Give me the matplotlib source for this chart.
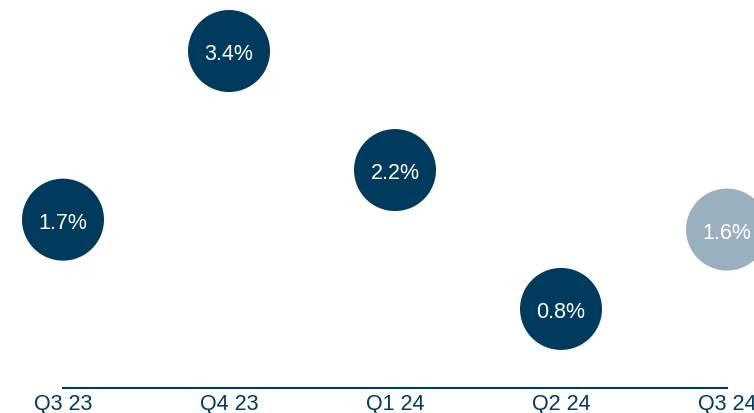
import matplotlib.pyplot as plt

# data
quarters = ["Q3 23", "Q4 23", "Q1 24", "Q2 24", "Q3 24"]
growth = [1.7, 3.4, 2.2, 0.8, 1.6]
labels = ["1.7%", "3.4%", "2.2%", "0.8%", "1.6%"]
is_forecast = [False, False, False, False, True]

DARK = "#003a5c"
LIGHT = "#9bb0be"

plt.rcParams['font.family'] = ['Liberation Sans', 'DejaVu Sans']

fig = plt.figure(figsize=(7.54, 4.14), dpi=100)
ax = fig.add_axes([0, 0, 1, 1])

x = list(range(len(quarters)))
colors = [LIGHT if f else DARK for f in is_forecast]

# circles (radius ~41 px)
ax.scatter(x, growth, s=(2 * 41 * 0.72) ** 2, c=colors, linewidths=0, zorder=3)
for xi, v, lab in zip(x, growth, labels):
    ax.text(xi, v, lab, ha='center', va='center_baseline', color='white',
            fontsize=15.5, zorder=4)

# baseline
ax.plot([x[0], x[-1]], [0, 0], color=DARK, linewidth=1.5, zorder=2)
for xi, q in zip(x, quarters):
    ax.text(xi, -0.205, q, ha='center', va='baseline', color=DARK, fontsize=15.5)

ax.set_xlim(-63 / 166, (754 - 63) / 166)
ax.set_ylim(-(414 - 389.3) / 99.2, 389.3 / 99.2)
ax.axis('off')

fig.savefig("out.png", dpi=100)
